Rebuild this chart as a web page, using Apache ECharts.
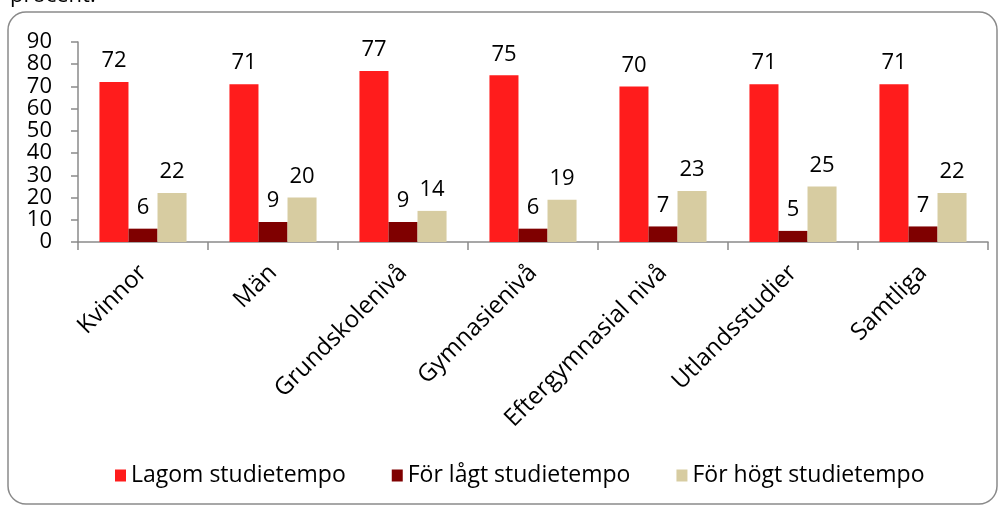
<!DOCTYPE html>
<html>
<head>
<meta charset="utf-8">
<script src="https://cdn.jsdelivr.net/npm/echarts@6/dist/echarts.min.js"></script>
<style>
  html, body { margin: 0; padding: 0; background: #fff; }
  #chart { width: 1002px; height: 506px; }
</style>
</head>
<body>
<div id="chart"></div>
<script>
// categories and values
const categories = ["Kvinnor", "Män", "Grundskolenivå", "Gymnasienivå", "Eftergymnasial nivå", "Utlandsstudier", "Samtliga"];
const lagom = [72, 71, 77, 75, 70, 71, 71];
const forLagt = [6, 9, 9, 6, 7, 5, 7];
const forHogt = [22, 20, 14, 19, 23, 25, 22];
const seriesNames = ["Lagom studietempo", "För lågt studietempo", "För högt studietempo"];
const colors = ["#ff1c1c", "#7f0000", "#d7cca1"];

const font = "'Open Sans', sans-serif";

const chart = echarts.init(document.getElementById("chart"));

function makeSeries(name, data, color) {
  return {
    name: name,
    type: "bar",
    data: data,
    barGap: "0%",
    barCategoryGap: "33%",
    itemStyle: { color: color },
    label: {
      show: true,
      position: "top",
      distance: 10,
      color: "#000",
      fontSize: 22,
      fontFamily: font,
    },
  };
}

const options = {
  animation: false,
  color: colors,
  graphic: [
    {
      type: "rect",
      shape: { x: 8, y: 12, width: 989, height: 492, r: 18 },
      style: { fill: "none", stroke: "#8a8a8a", lineWidth: 1.5 },
      z: -1,
    },
    {
      type: "text",
      left: 10,
      top: -15,
      style: { text: "procent.", fontSize: 22, fontFamily: font, fill: "#000" },
    },
  ],
  legend: {
    data: seriesNames,
    bottom: 14,
    left: 110,
    itemWidth: 11,
    itemHeight: 12,
    itemGap: 46,
    icon: "rect",
    textStyle: { fontSize: 23, fontFamily: font, color: "#000" },
  },
  grid: {
    left: 78,
    right: 14,
    top: 42,
    bottom: 264,
  },
  xAxis: {
    type: "category",
    data: categories,
    axisLine: { lineStyle: { color: "#8a8a8a", width: 1.5 } },
    axisTick: { show: true, length: 8, lineStyle: { color: "#8a8a8a", width: 1.5 } },
    axisLabel: {
      rotate: 45,
      margin: 27,
      color: "#000",
      fontSize: 24,
      fontFamily: font,
      interval: 0,
    },
  },
  yAxis: {
    type: "value",
    min: 0,
    max: 90,
    interval: 10,
    splitLine: { show: false },
    axisLine: { show: true, lineStyle: { color: "#8a8a8a", width: 1.5 } },
    axisTick: { show: true, length: 7, lineStyle: { color: "#8a8a8a", width: 1.5 } },
    axisLabel: {
      margin: 26,
      color: "#000",
      fontSize: 22,
      fontFamily: font,
    },
  },
  series: [
    makeSeries(seriesNames[0], lagom, colors[0]),
    makeSeries(seriesNames[1], forLagt, colors[1]),
    makeSeries(seriesNames[2], forHogt, colors[2]),
  ],
};

chart.setOption(options);
</script>
</body>
</html>
